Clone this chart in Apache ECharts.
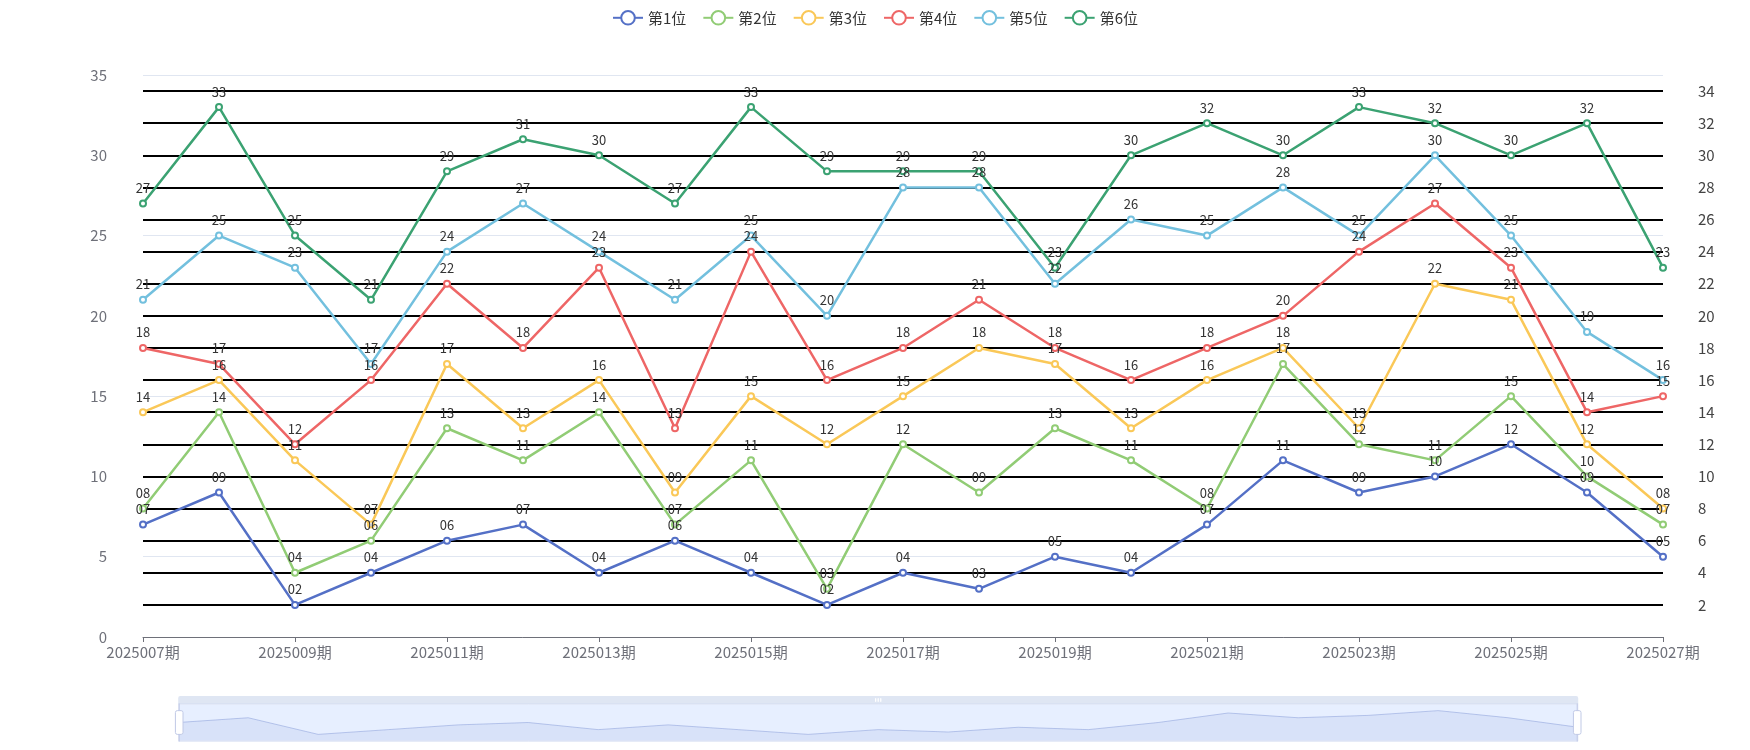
<!DOCTYPE html>
<html>
<head>
<meta charset="utf-8">
<script src="https://cdn.jsdelivr.net/npm/echarts@6/dist/echarts.min.js"></script>
<style>
html,body{margin:0;padding:0;background:#fff;}
#chart{width:1750px;height:750px;}
</style>
</head>
<body>
<div id="chart"></div>
<script>
const categories = ['2025007期','2025008期','2025009期','2025010期','2025011期','2025012期','2025013期','2025014期','2025015期','2025016期','2025017期','2025018期','2025019期','2025020期','2025021期','2025022期','2025023期','2025024期','2025025期','2025026期','2025027期'];
const seriesNames = ['第1位','第2位','第3位','第4位','第5位','第6位'];
const pos1 = [7, 9, 2, 4, 6, 7, 4, 6, 4, 2, 4, 3, 5, 4, 7, 11, 9, 10, 12, 9, 5];
const pos2 = [8, 14, 4, 6, 13, 11, 14, 7, 11, 3, 12, 9, 13, 11, 8, 17, 12, 11, 15, 10, 7];
const pos3 = [14, 16, 11, 7, 17, 13, 16, 9, 15, 12, 15, 18, 17, 13, 16, 18, 13, 22, 21, 12, 8];
const pos4 = [18, 17, 12, 16, 22, 18, 23, 13, 24, 16, 18, 21, 18, 16, 18, 20, 24, 27, 23, 14, 15];
const pos5 = [21, 25, 23, 17, 24, 27, 24, 21, 25, 20, 28, 28, 22, 26, 25, 28, 25, 30, 25, 19, 16];
const pos6 = [27, 33, 25, 21, 29, 31, 30, 27, 33, 29, 29, 29, 23, 30, 32, 30, 33, 32, 30, 32, 23];
const allData = [pos1, pos2, pos3, pos4, pos5, pos6];
const colors = ['#5470c6','#91cc75','#fac858','#ee6666','#73c0de','#3ba272'];

const FONT = '"Noto Sans CJK SC", "Noto Sans", sans-serif';
const chart = echarts.init(document.getElementById('chart'));
chart.setOption({
  animation: false,
  color: colors,
  textStyle: { fontFamily: FONT },
  legend: {
    top: 5,
    left: 'center',
    itemWidth: 30,
    itemHeight: 17,
    itemGap: 16,
    textStyle: { fontSize: 15, color: '#333', fontFamily: FONT },
    data: seriesNames
  },
  grid: { left: 143, right: 87, top: 75, bottom: 113, containLabel: false },
  xAxis: {
    type: 'category',
    boundaryGap: false,
    data: categories,
    axisLine: { lineStyle: { color: '#6E7079' } },
    axisLabel: { fontSize: 15, color: '#6E7079', fontFamily: FONT }
  },
  yAxis: [
    {
      type: 'value',
      min: 0, max: 35, interval: 5,
      axisLabel: { fontSize: 15, color: '#6E7079', margin: 36, fontFamily: FONT },
      splitLine: { lineStyle: { color: '#E0E6F1' } }
    },
    {
      type: 'value',
      position: 'right',
      min: 0, max: 35, interval: 2,
      axisLabel: { fontSize: 15, color: '#444', margin: 35, showMinLabel: false, showMaxLabel: false, fontFamily: FONT },
      splitLine: { show: true, showMinLine: false, showMaxLine: false, lineStyle: { color: '#000', width: 2 } }
    }
  ],
  dataZoom: [
    { type: 'inside', start: 0, end: 100 },
    {
      type: 'slider', start: 0, end: 100,
      left: '10%', right: '10%', top: 696, height: 38,
      moveHandleSize: 8,
      moveHandleStyle: { color: '#D2DBEE', opacity: 0.7 },
      showDetail: false
    }
  ],
  series: allData.map((d, i) => ({
    name: seriesNames[i],
    type: 'line',
    data: d,
    symbol: 'emptyCircle',
    symbolSize: 6,
    lineStyle: { width: 2.5 },
    itemStyle: { borderWidth: 2 },
    label: {
      show: true,
      position: 'top',
      fontSize: 13,
      color: '#333',
      fontFamily: FONT,
      formatter: p => String(p.value).padStart(2, '0')
    }
  }))
});
</script>
</body>
</html>
